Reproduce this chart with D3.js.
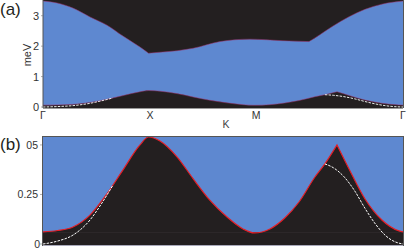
<!DOCTYPE html>
<html>
<head>
<meta charset="utf-8">
<script src="https://cdn.jsdelivr.net/npm/d3@7"></script>
<style>
  body { margin: 0; background: #fff; }
  text { font-family: "Liberation Sans", Arial, sans-serif; fill: #333; }
</style>
</head>
<body>
<div id="chart"></div>
<script>

// path positions of the symmetry points (Γ-X-M-Γ)
const kTicks = [0, 1, 2, 3.41];
const kNames = ["Γ", "X", "M", "Γ"];

// panel (a) upper edge of the continuum
const kUp = [0, 0.133, 0.284, 0.445, 0.606, 0.758, 0.919, 1.0, 1.108, 1.27, 1.421, 1.677, 1.96, 2.264, 2.52, 2.62, 2.737, 2.899, 3.05, 3.21, 3.41];
const eUp = [3.48, 3.42, 3.25, 2.96, 2.69, 2.33, 1.97, 1.77, 1.80, 1.85, 1.93, 2.15, 2.23, 2.18, 2.15, 2.37, 2.64, 2.97, 3.21, 3.38, 3.48];

// lower edge of the continuum (red line), used in both panels
const kLow = [0, 0.14, 0.284, 0.445, 0.606, 0.758, 0.919, 1.0, 1.108, 1.269, 1.421, 1.582, 1.743, 1.895, 2.0, 2.15, 2.29, 2.425, 2.576, 2.67, 2.785, 2.899, 3.05, 3.21, 3.372, 3.41];
const eLow = [0.061, 0.068, 0.086, 0.146, 0.253, 0.374, 0.5, 0.54, 0.52, 0.44, 0.33, 0.22, 0.136, 0.076, 0.056, 0.076, 0.131, 0.212, 0.338, 0.404, 0.5, 0.379, 0.227, 0.121, 0.066, 0.061];

// white dashed dispersion near Γ
const kDashL = [0, 0.14, 0.284, 0.445, 0.55, 0.66];
const eDashL = [0, 0.015, 0.045, 0.121, 0.2, 0.295];
const kDashR = [2.67, 2.75, 2.85, 2.95, 3.05, 3.15, 3.25, 3.33, 3.41];
const eDashR = [0.404, 0.385, 0.34, 0.27, 0.18, 0.1, 0.04, 0.012, 0];

const ticksA = [0, 1, 2, 3];
const ticksB = [0, 0.25, 0.5];
const ticksBLabels = ["0", "0.25", "05"];

const blue = "#5e88d0", black = "#231f20", red = "#e41e26";

const svg = d3.select("#chart").append("svg")
    .attr("width", 407)
    .attr("height", 249);

let x = d3.scaleLinear().domain([0, 3.41]).range([43, 403]);
let yA = d3.scaleLinear().domain([0, 3.5]).range([107, 0.5]);
let yB = d3.scaleLinear().domain([0, 0.54]).range([244, 137]);

let zip = (ks, es) => ks.map((k, i) => [k, es[i]]);
let up = zip(kUp, eUp), low = zip(kLow, eLow);
let dashL = zip(kDashL, eDashL), dashR = zip(kDashR, eDashR);

// smooth line with sharp cusps at given k values
function cuspPath(pts, cusps, y) {
    let line = d3.line().x(d => x(d[0])).y(d => y(d[1])).curve(d3.curveMonotoneX);
    let segs = [], cur = [];
    pts.forEach(p => {
        cur.push(p);
        if (cusps.includes(p[0])) { segs.push(cur); cur = [p]; }
    });
    if (cur.length > 1) segs.push(cur);
    return segs.map((s, i) => i === 0 ? line(s) : line(s).replace(/^M/, "L")).join("");
}

// ---------- panel (a)
let ga = svg.append("g");
ga.append("rect").attr("x", 43).attr("y", 0).attr("width", 360).attr("height", 108).attr("fill", black);

let upPath = cuspPath(up, [1.0, 2.52], yA);
let lowPath = cuspPath(low, [2.785], yA);
ga.append("path")
    .attr("d", upPath + "L" + x(3.41) + "," + yA(0) + "L" + x(0) + "," + yA(0) + "Z")
    .attr("fill", blue);
ga.append("path")
    .attr("d", lowPath + "L" + x(3.41) + ",108L" + x(0) + ",108Z")
    .attr("fill", black);
ga.append("path").attr("d", upPath).attr("fill", "none").attr("stroke", "#a0306a").attr("stroke-width", 0.5);
ga.append("path").attr("d", lowPath).attr("fill", "none").attr("stroke", "#a0306a").attr("stroke-width", 0.5);

let dashLine = (y) => d3.line().x(d => x(d[0])).y(d => y(d[1])).curve(d3.curveMonotoneX);
[dashL, dashR].forEach(d => {
    ga.append("path").attr("d", dashLine(yA)(d))
        .attr("fill", "none").attr("stroke", "#fff").attr("stroke-width", 0.9)
        .attr("stroke-dasharray", "2.5,1.2");
});

ga.append("line").attr("x1", 43).attr("x2", 43).attr("y1", 0).attr("y2", 108).attr("stroke", "#555").attr("stroke-width", 1);
ga.append("line").attr("x1", 43).attr("x2", 403).attr("y1", 108.5).attr("y2", 108.5).attr("stroke", "#999").attr("stroke-width", 1);
ga.append("line").attr("x1", 403.5).attr("x2", 403.5).attr("y1", 0).attr("y2", 108).attr("stroke", "#555").attr("stroke-width", 1);

ga.selectAll(".ta").data(ticksA).enter().append("text")
    .attr("x", 39).attr("y", d => yA(d) + 4)
    .attr("text-anchor", "end").attr("font-size", 11)
    .text(d => d);
ga.selectAll(".tk").data(ticksA).enter().append("line")
    .attr("x1", 41).attr("x2", 43).attr("y1", d => yA(d)).attr("y2", d => yA(d))
    .attr("stroke", "#777").attr("stroke-width", 0.6);

ga.append("text").attr("transform", "translate(31,55) rotate(-90)")
    .attr("text-anchor", "middle").attr("font-size", 11).text("meV");

ga.selectAll(".kl").data(kTicks).enter().append("text")
    .attr("x", (d, i) => i === 1 ? x(d) + 1.5 : (i === 2 ? x(d) + 2 : x(d)))
    .attr("y", 119)
    .attr("text-anchor", "middle").attr("font-size", 10.5)
    .text((d, i) => kNames[i]);
ga.append("text").attr("x", 226).attr("y", 127.5).attr("text-anchor", "middle")
    .attr("font-size", 10.5).style("fill", "#444").text("K");

svg.append("text").attr("x", 0).attr("y", 15).attr("font-size", 17).style("fill", "#231f20").text("(a)");

// ---------- panel (b)
let gb = svg.append("g");
gb.append("rect").attr("x", 43).attr("y", 137).attr("width", 360).attr("height", 108).attr("fill", blue);

let redPath = cuspPath(low, [2.785], yB);
gb.append("path")
    .attr("d", redPath + "L" + x(3.41) + ",245L" + x(0) + ",245Z")
    .attr("fill", black);

// faint gap level line
gb.append("line").attr("x1", 43).attr("x2", 403).attr("y1", yB(0.058)).attr("y2", yB(0.058))
    .attr("stroke", "#2e2a2c").attr("stroke-width", 0.8);

gb.append("path").attr("d", redPath).attr("fill", "none").attr("stroke", red).attr("stroke-width", 1.2);
[dashL, dashR].forEach(d => {
    gb.append("path").attr("d", dashLine(yB)(d))
        .attr("fill", "none").attr("stroke", "#fff").attr("stroke-width", 1)
        .attr("stroke-dasharray", "2.5,1.2");
});

gb.append("rect").attr("x", 42.5).attr("y", 136.5).attr("width", 361).attr("height", 109)
    .attr("fill", "none").attr("stroke", "#555").attr("stroke-width", 1);
gb.append("line").attr("x1", 43).attr("x2", 403).attr("y1", 245.5).attr("y2", 245.5).attr("stroke", "#aab").attr("stroke-width", 1);

gb.selectAll(".tb").data(ticksB).enter().append("text")
    .attr("x", (d, i) => i === 0 ? 40 : 38).attr("y", d => yB(d) + 4)
    .attr("text-anchor", "end").attr("font-size", 10.5)
    .text((d, i) => ticksBLabels[i]);
gb.selectAll(".tkb").data(ticksB).enter().append("line")
    .attr("x1", 40).attr("x2", 42).attr("y1", d => yB(d)).attr("y2", d => yB(d))
    .attr("stroke", "#777").attr("stroke-width", 0.6);

svg.append("text").attr("x", 0).attr("y", 150).attr("font-size", 17).style("fill", "#231f20").text("(b)");

</script>
</body>
</html>
